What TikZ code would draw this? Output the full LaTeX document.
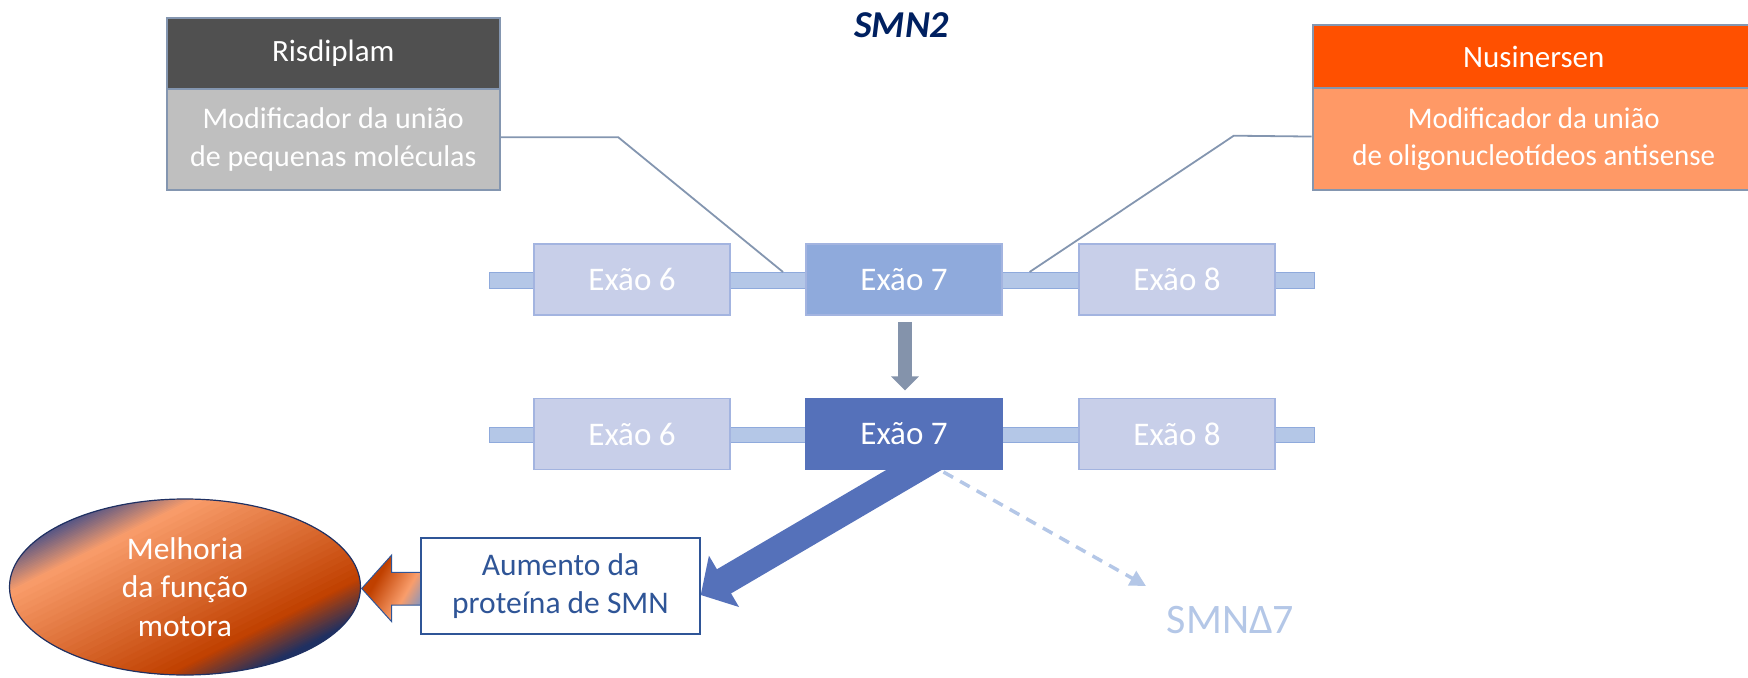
\documentclass[tikz,border=0pt]{standalone}
\usepackage{fontspec}
\setmainfont{Carlito}
\newfontfamily\narrowfont{Carlito}[FakeStretch=0.965]
\usetikzlibrary{shapes.geometric,arrows.meta}

\definecolor{titleblue}{HTML}{002060}
\definecolor{risdark}{HTML}{505050}
\definecolor{rislight}{HTML}{BFBFBF}
\definecolor{nusdark}{HTML}{FF5000}
\definecolor{nuslight}{HTML}{FF9966}
\definecolor{edgegray}{HTML}{8496B0}
\definecolor{exonpale}{HTML}{C8CFE9}
\definecolor{exonedge}{HTML}{A3B4E0}
\definecolor{intron}{HTML}{B4C7E7}
\definecolor{intronedge}{HTML}{8FAADC}
\definecolor{exonmid}{HTML}{8FAADC}
\definecolor{exondeep}{HTML}{5571BA}
\definecolor{slate}{HTML}{8493AB}
\definecolor{protblue}{HTML}{2F5597}
\definecolor{navyA}{HTML}{4A5087}
\definecolor{navyB}{HTML}{1F3062}
\definecolor{orlight}{HTML}{F99D6B}
\definecolor{ordark}{HTML}{C04000}
\definecolor{greyblue}{HTML}{8F96B8}

% gradient of the small block arrow
\pgfdeclarehorizontalshading{arrowfill}{100bp}{color(0bp)=(ordark); color(36bp)=(ordark); color(62bp)=(orlight); color(76bp)=(greyblue); color(100bp)=(greyblue)}

\begin{document}
\begin{tikzpicture}[x=1bp, y=-1bp,
  headbox/.style={rectangle, draw=edgegray, line width=2bp, inner sep=0pt, text=white,
    font=\fontsize{31bp}{37bp}\selectfont},
  bodybox/.style={rectangle, draw=edgegray, line width=2bp, inner sep=0pt, text=white, align=center,
    font=\fontsize{30bp}{37.6bp}\selectfont},
  exonbox/.style={rectangle, minimum width=196bp, minimum height=71bp, inner sep=0pt,
    draw=exonedge, line width=1.5bp, fill=exonpale, text=white, font=\fontsize{33bp}{40bp}\selectfont},
  intronbar/.style={rectangle, minimum width=825bp, inner sep=0pt, fill=intron, draw=intronedge, line width=1bp},
  link/.style={draw=edgegray, line width=1.8bp}]

\useasboundingbox (0,0) rectangle (1748,678);

% title
\node[anchor=base, text=titleblue, font=\fontsize{38bp}{44bp}\selectfont\bfseries\itshape] (title) at (901.7,37.3) {SMN2};

% drug boxes
\node[headbox, fill=risdark, minimum width=333.5bp, minimum height=71.3bp] (risH) at (333.25,53.35) {Risdiplam};
\node[bodybox, fill=rislight, minimum width=333.5bp, minimum height=101bp] (risB) at (333.25,139.5) {Modificador da união\\de pequenas moléculas};

\node[headbox, fill=nusdark, minimum width=442.5bp, minimum height=63.3bp] (nusH) at (1533.75,56.65) {Nusinersen};
\node[bodybox, fill=nuslight, minimum width=442.5bp, minimum height=101.7bp, font=\fontsize{30bp}{37.6bp}\narrowfont] (nusB) at (1533.75,139.15) {Modificador da união\\de oligonucleotídeos antisense};

% intron bars
\node[intronbar, minimum height=16bp] (bar1) at (901.5,280) {};
\node[intronbar, minimum height=15bp] (bar2) at (901.5,434.5) {};

% leader lines from the drugs to the gene
\coordinate (rk) at (618.3,137.3);
\coordinate (rj) at (783,272);
\coordinate (nk) at (1233.8,135.7);
\coordinate (nj) at (1029.6,272);
\draw[link] ([yshift=2.2bp]risB.east) -- (rk) -- (rj);
\draw[link] ([yshift=2.6bp]nusB.west) -- (nk) -- (nj);

% thick arrow towards the protein box (starts under exon 7)
\coordinate (bs) at (965,440);
\coordinate (bt) at (700.7,595);
\draw[exondeep, line width=28bp, -{Triangle[width=58bp,length=27bp]}] (bs) -- (bt);

% exons, first row
\node[exonbox] (e61) at (632,279.5) {Exão 6};
\node[exonbox, fill=exonmid] (e71) at (904,279.5) {Exão 7};
\node[exonbox] (e81) at (1177,279.5) {Exão 8};

% exons, second row
\node[exonbox] (e62) at (632,434) {Exão 6};
\node[exonbox, fill=exondeep, draw=exondeep] (e72) at (904,434) {Exão 7};
\node[exonbox] (e82) at (1177,434) {Exão 8};

% splicing step
\draw[slate, line width=13.5bp, -{Triangle[width=27bp,length=14bp]}]
  ([xshift=1bp,yshift=-6bp]e71.south) -- ([xshift=1bp,yshift=7.3bp]e72.north);

% truncated product
\coordinate (ds) at (943.5,472);
\coordinate (dt) at (1146,586);
\draw[intron, line width=3.5bp, dash pattern=on 11bp off 8bp, -{Triangle[width=16bp,length=16bp]}] (ds) -- (dt);
\node[anchor=base, text=intron, font=\fontsize{42bp}{48bp}\selectfont] (smnd) at (1230.5,633) {SMNΔ7};

% block arrow towards the outcome
\path[shading=arrowfill, shading angle=-30, draw=protblue, line width=1bp]
  (361.7,588.5) -- (391.7,555) -- (391.7,572.3) -- (421,572.3) -- (421,605)
  -- (391.7,605) -- (391.7,621.7) -- cycle;

% protein box
\node[rectangle, draw=protblue, line width=2bp, fill=white, minimum width=279bp, minimum height=96.3bp,
  inner sep=0pt, text=protblue, align=center, font=\fontsize{31.5bp}{37.4bp}\selectfont]
  (aum) at (560.5,585.9) {Aumento da\\proteína de SMN};

% diagonal colour bands filling the outcome ellipse
\begin{scope}
  \clip (185,587) ellipse [x radius=175.5, y radius=88];
  \begin{scope}[shift={(185,587)}, x=175.5bp, y=-88bp]
    \foreach \ca/\cb/\sa/\sb in {navyA/orlight/-0.72/-0.47, orlight/ordark/-0.47/0.45, ordark/navyB/0.45/0.68}{
      \foreach \k in {0,...,24}{
        \pgfmathsetmacro\lo{\sa+(\sb-\sa)*\k/25}
        \pgfmathsetmacro\hi{\sa+(\sb-\sa)*(\k+1.4)/25}
        \pgfmathtruncatemacro\mix{98-4*\k}
        \fill[\ca!\mix!\cb] (-1.2,{2*\lo+1.2}) -- (1.2,{2*\lo-1.2}) -- (1.2,{2*\hi-1.2}) -- (-1.2,{2*\hi+1.2}) -- cycle;
      }
    }
    \fill[navyA] (-1.2,{2*(-0.72)+1.2}) -- (1.2,{2*(-0.72)-1.2}) -- (1.2,-3) -- (-1.2,-3) -- cycle;
    \fill[navyB] (-1.2,{2*0.68+1.2}) -- (1.2,{2*0.68-1.2}) -- (1.2,3) -- (-1.2,3) -- cycle;
  \end{scope}
\end{scope}

% outcome
\node[ellipse, minimum width=351bp, minimum height=176bp, inner sep=0pt, draw=navyB, line width=1.2bp,
  text=white, align=center, font=\fontsize{31.5bp}{38.3bp}\selectfont] (mel) at (185,587) {Melhoria\\da função\\motora};

\end{tikzpicture}
\end{document}
